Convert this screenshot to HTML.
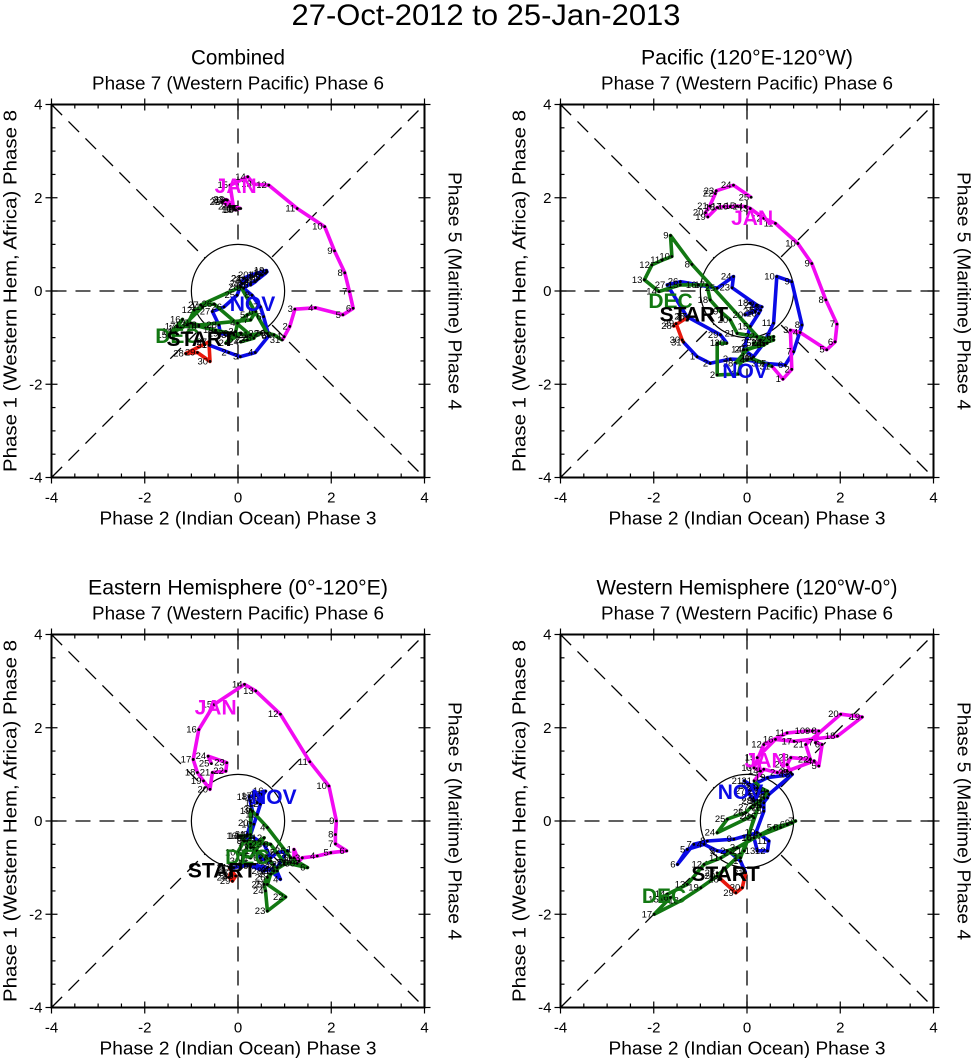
<!DOCTYPE html>
<html><head><meta charset="utf-8"><style>
html,body{margin:0;padding:0;background:#fff;}
svg{display:block;font-family:"Liberation Sans",Arial,sans-serif;}
</style></head><body>
<svg id="chart" width="971" height="1058" viewBox="0 0 971 1058" xmlns="http://www.w3.org/2000/svg">
<text x="486" y="25" text-anchor="middle" font-size="30" textLength="389" lengthAdjust="spacingAndGlyphs">27-Oct-2012 to 25-Jan-2013</text>
</svg>
<script>
// ---- data (RMM1, RMM2) per panel & month ----
const panelTitles = ["Combined","Pacific (120°E-120°W)","Eastern Hemisphere (0°-120°E)","Western Hemisphere (120°W-0°)"];
const panelTitleWidths = [94,212,300,301];
const tickValues = [-4,-2,0,2,4];
const monthNames = ["OCT","NOV","DEC","JAN"];
const monthColors = ["#e8180c","#0a0ae6","#127812","#f20af2"];
const octDays = [27,28,29,30,31];

const p1Oct = [[-0.62,-1.09],[-1.12,-1.34],[-0.87,-1.32],[-0.60,-1.51],[-0.62,-1.16]];
const p1Nov = [[-0.62,-1.16],[-0.20,-1.32],[0.05,-1.41],[0.37,-1.32],[0.66,-0.96],[0.55,-0.55],[0.48,-0.34],[0.30,-0.09],[0.12,0.06],[0.27,0.16],[0.45,0.27],[0.59,0.38],[0.62,0.41],[0.48,0.34],[0.41,0.24],[0.27,0.13],[0.37,0.20],[0.52,0.34],[0.61,0.44],[0.27,0.34],[0.12,0.27],[0.20,0.24],[0.09,0.16],[0.12,0.27],[-0.02,-0.09],[-0.30,-0.34],[-0.55,-0.44],[-0.41,-0.73],[-0.38,-0.91],[-0.09,-0.94]];
const p1Dec = [[0.06,-0.91],[-0.26,-1.12],[-0.05,-0.87],[-0.01,-0.69],[0.20,-0.51],[0.38,-0.44],[0.27,-0.62],[-0.84,-0.73],[-1.01,-0.69],[-1.23,-0.80],[-0.76,-0.34],[-0.94,-0.41],[-1.09,-0.73],[-1.37,-0.87],[-1.48,-0.94],[-1.19,-0.61],[-1.30,-0.76],[-0.84,-0.76],[-0.48,-0.84],[-0.16,-0.91],[0.27,-0.94],[0.49,-0.91],[0.20,-1.05],[0.06,-1.09],[0.34,-1.01],[-0.51,-0.28],[-0.80,-0.30],[0.06,0.09],[0.63,-0.91],[0.77,-0.94],[0.95,-1.05]];
const p1Jan = [[0.99,-0.98],[1.11,-0.76],[1.22,-0.39],[1.66,-0.36],[2.25,-0.51],[2.47,-0.37],[2.39,-0.01],[2.29,0.39],[2.07,0.86],[1.86,1.38],[1.27,1.77],[0.66,2.27],[0.34,2.29],[0.21,2.45],[-0.17,2.27],[-0.09,1.75],[0.02,1.77],[-0.05,1.74],[-0.23,1.95],[-0.31,1.94],[-0.16,1.81],[-0.34,1.91],[-0.26,1.96],[-0.09,1.81],[0.06,1.77]];

const p2Oct = [[-1.25,-0.55],[-1.57,-0.75],[-1.52,-0.70],[-1.39,-1.05],[-1.36,-1.10]];
const p2Nov = [[-1.07,-1.41],[-0.79,-1.55],[-0.36,-1.46],[0.00,-1.48],[0.46,-1.56],[0.82,-1.59],[1.00,-1.30],[1.18,-0.73],[0.96,0.20],[0.64,0.31],[0.57,-0.69],[0.36,-1.12],[0.14,-1.41],[-0.07,-1.26],[0.07,-0.76],[0.25,-0.48],[0.29,-0.41],[0.07,-0.26],[0.32,-0.34],[-0.04,-0.51],[0.18,-0.44],[0.21,-0.30],[-0.32,0.07],[-0.29,0.31],[-0.64,0.06],[-1.43,0.20],[-1.71,0.13],[-1.29,-0.55],[-0.57,-0.94],[-0.43,-1.12]];
const p2Dec = [[-0.64,-1.12],[-0.64,-1.80],[-0.18,-1.78],[-0.07,-1.26],[0.36,-1.16],[0.57,-0.98],[0.29,-1.05],[-1.18,0.57],[-1.64,1.19],[-1.61,0.74],[-1.82,0.66],[-2.04,0.56],[-2.20,0.24],[-1.89,-0.01],[-1.43,0.13],[-1.04,0.13],[-0.86,0.13],[-0.79,-0.19],[-0.57,-0.44],[-0.36,-0.62],[-0.21,-0.91],[0.21,-0.98],[0.57,-1.05],[0.36,-1.12],[0.14,-1.12],[0.43,-1.12],[0.00,-1.26],[-0.25,-1.55],[0.10,-1.45],[0.36,-1.55],[0.54,-1.62]];
const p2Jan = [[0.77,-1.89],[0.96,-1.68],[0.93,-0.84],[1.14,-0.89],[1.71,-1.26],[1.89,-1.09],[1.93,-0.71],[1.69,-0.19],[1.39,0.59],[1.09,1.02],[0.61,1.45],[0.36,1.56],[0.07,1.77],[-0.04,1.81],[-0.21,1.82],[-0.36,1.81],[-0.50,1.81],[-0.64,1.79],[-0.84,1.59],[-0.89,1.68],[-0.80,1.82],[-0.68,2.09],[-0.66,2.15],[-0.29,2.27],[0.09,2.01]];

const p3Oct = [[-0.16,-1.11],[-0.19,-1.21],[-0.12,-1.29],[-0.05,-1.18],[-0.19,-1.00]];
const p3Nov = [[-0.09,-1.00],[0.27,-0.93],[0.63,-1.00],[0.91,-1.25],[0.77,-0.93],[0.48,-0.79],[0.27,-0.50],[0.13,-0.43],[0.27,-0.29],[0.34,-0.07],[0.41,0.14],[0.48,0.36],[0.52,0.57],[0.45,0.50],[0.41,0.39],[0.59,0.64],[0.34,0.54],[0.24,0.52],[0.31,0.21],[0.27,-0.04],[0.20,-0.29],[0.34,-0.36],[0.56,-0.50],[0.70,-0.79],[0.84,-0.68],[1.06,-0.64],[0.84,-1.00],[0.56,-1.07],[0.27,-0.96],[0.09,-0.86]];
const p3Dec = [[0.06,-0.93],[0.27,-0.36],[0.27,0.25],[0.63,-0.14],[1.13,-0.79],[1.49,-1.00],[0.99,-0.89],[0.70,-0.50],[0.13,-0.43],[-0.01,-0.68],[0.27,-0.79],[0.56,-0.36],[0.27,-0.57],[0.06,-0.32],[0.20,-0.32],[0.02,-0.32],[0.41,-0.64],[0.70,-0.86],[0.84,-1.07],[0.70,-1.14],[0.63,-1.36],[1.02,-1.63],[0.63,-1.93],[0.59,-1.50],[0.56,-1.36],[0.63,-1.21],[0.77,-1.07],[0.99,-0.93],[1.13,-0.89],[1.27,-0.91],[1.20,-0.79]];
const p3Jan = [[1.20,-0.61],[1.31,-0.86],[1.38,-0.79],[1.70,-0.75],[1.99,-0.68],[2.33,-0.64],[2.09,-0.49],[2.09,-0.29],[2.11,0.00],[1.95,0.75],[1.54,1.27],[0.91,2.29],[0.38,2.79],[0.14,2.93],[-0.51,2.50],[-0.84,1.96],[-0.96,1.32],[-0.87,1.04],[-0.74,0.86],[-0.60,0.68],[-0.55,1.04],[-0.26,1.07],[-0.24,1.25],[-0.64,1.39],[-0.57,1.23]];

const p4Oct = [[-0.64,-1.11],[-0.56,-1.25],[-0.24,-1.54],[-0.10,-1.43],[-0.03,-1.11]];
const p4Nov = [[-0.14,-0.86],[-0.35,-0.68],[-0.64,-0.64],[-0.92,-0.50],[-1.28,-0.61],[-1.49,-0.93],[-1.14,-0.50],[-0.85,-0.43],[-0.28,-0.39],[0.22,-0.25],[0.47,-0.43],[0.44,-0.64],[0.22,-0.64],[0.15,-0.36],[0.36,0.21],[0.36,0.39],[0.47,0.57],[0.97,1.00],[0.44,0.93],[0.08,0.75],[-0.06,0.86],[0.29,0.64],[0.15,0.50],[0.29,0.32],[0.44,0.50],[0.22,0.71],[0.01,0.64],[0.15,0.43],[0.36,0.29],[0.29,0.43]];
const p4Dec = [[-0.14,-0.79],[-0.42,-0.64],[-0.21,-0.57],[0.29,-0.29],[0.58,-0.14],[0.86,-0.07],[1.04,0.00],[0.72,-0.14],[0.97,-0.04],[0.15,-0.36],[-0.56,-0.79],[-0.92,-0.93],[-1.28,-1.36],[-1.71,-1.57],[-1.85,-1.68],[-1.64,-1.64],[-1.99,-2.00],[-1.42,-1.71],[-0.99,-1.43],[-0.64,-1.18],[-0.06,-0.64],[0.15,0.07],[0.11,0.11],[-0.64,-0.25],[-0.42,0.04],[-0.03,0.18],[0.08,0.29],[0.36,0.50],[0.44,0.64],[0.29,0.71],[0.15,0.86]];
const p4Jan = [[0.36,1.11],[0.65,1.04],[0.86,1.07],[1.44,1.29],[1.54,1.18],[1.61,1.64],[1.47,1.68],[1.54,1.93],[1.40,1.93],[1.29,1.93],[0.86,1.89],[0.36,1.64],[0.15,1.14],[0.29,1.07],[0.22,1.36],[0.61,1.75],[1.01,1.71],[1.94,1.82],[2.47,2.23],[2.01,2.29],[1.26,1.64],[1.36,1.32],[0.94,1.36],[0.86,1.21],[0.94,1.04]];

// label anchor positions (data units) for month labels
const p1Labels = [[-1.3,-0.94],[0.31,-0.26],[-1.3,-0.94],[-0.05,2.27],[-0.8,-1.01]];
const p2Labels = [[0,0],[-0.04,-1.69],[-1.64,-0.19],[0.11,1.59],[-1.14,-0.48]];
const p3Labels = [[0,0],[0.77,0.54],[0.2,-0.75],[-0.48,2.46],[-0.34,-1.04]];
const p4Labels = [[0,0],[-0.14,0.64],[-1.78,-1.59],[0.4,1.32],[-0.46,-1.11]];

const panels = [
  {x0:51.5,y0:104.5,data:[p1Oct,p1Nov,p1Dec,p1Jan],labels:p1Labels},
  {x0:560.5,y0:104.5,data:[p2Oct,p2Nov,p2Dec,p2Jan],labels:p2Labels},
  {x0:51.5,y0:634.5,data:[p3Oct,p3Nov,p3Dec,p3Jan],labels:p3Labels},
  {x0:560.5,y0:634.5,data:[p4Oct,p4Nov,p4Dec,p4Jan],labels:p4Labels}
];
const SIZE = 373;
const NS = "http://www.w3.org/2000/svg";
const svg = document.getElementById('chart');
function mk(tag, attrs, parent, text){
  const e = document.createElementNS(NS, tag);
  for (const k in attrs) e.setAttribute(k, attrs[k]);
  if (text !== undefined) e.textContent = text;
  (parent||svg).appendChild(e);
  return e;
}
panels.forEach((p, pi) => {
  const sx = v => p.x0 + (v + 4) / 8 * SIZE;
  const sy = v => p.y0 + (4 - v) / 8 * SIZE;
  const g = mk('g', {});
  
  
  const cx = p.x0 + SIZE/2, cy = p.y0 + SIZE/2;
  const t = mk('text', {x:cx, y:p.y0-40, 'text-anchor':'middle', 'font-size':21, textLength:panelTitleWidths[pi], lengthAdjust:'spacingAndGlyphs'}, g, panelTitles[pi]);
  
  
  const tt = mk('text', {x:cx, y:p.y0-15, 'text-anchor':'middle', 'font-size':18, textLength:292, lengthAdjust:'spacingAndGlyphs'}, g, 'Phase 7 (Western Pacific) Phase 6');
  
  
  const bt = mk('text', {x:cx, y:p.y0+SIZE+47, 'text-anchor':'middle', 'font-size':18, textLength:277, lengthAdjust:'spacingAndGlyphs'}, g, 'Phase 2 (Indian Ocean) Phase 3');
  
  
  const lt = mk('text', {x:0, y:0, 'text-anchor':'middle', 'font-size':18, textLength:362, lengthAdjust:'spacingAndGlyphs', transform:`translate(${p.x0-35},${cy}) rotate(-90)`}, g, 'Phase 1 (Western Hem, Africa) Phase 8');
  
  
  const rt = mk('text', {x:0, y:0, 'text-anchor':'middle', 'font-size':18, textLength:238, lengthAdjust:'spacingAndGlyphs', transform:`translate(${p.x0+SIZE+24},${cy}) rotate(90)`}, g, 'Phase 5 (Maritime) Phase 4');
  
  
  const dash = {stroke:'#000','stroke-width':1.3,'stroke-dasharray':'15,9',fill:'none'};
  [[sx(-4),sy(4),sx(4),sy(-4)],[sx(-4),sy(-4),sx(4),sy(4)],[sx(-4),sy(0),sx(4),sy(0)],[sx(0),sy(4),sx(0),sy(-4)]].forEach(l=>{
    const e = mk('line', Object.assign({x1:l[0],y1:l[1],x2:l[2],y2:l[3]}, dash), g);
    
    
  });
  const c = mk('circle', {cx:sx(0), cy:sy(0), r:SIZE/8, fill:'#fff', stroke:'#000', 'stroke-width':1.2}, g);
  
  
  const fr = mk('rect', {x:p.x0, y:p.y0, width:SIZE, height:SIZE, fill:'none', stroke:'#000', 'stroke-width':2}, g);
  
  
  for (let v=-4; v<=4.001; v+=0.5){
    const major = Math.abs(v % 2) < 1e-6;
    const L = major ? 6 : 4;
    const out = major ? 6 : 0;
    mk('line',{x1:sx(v),y1:p.y0-out,x2:sx(v),y2:p.y0+L,stroke:'#000','stroke-width':1.2},g);
    mk('line',{x1:sx(v),y1:p.y0+SIZE+out,x2:sx(v),y2:p.y0+SIZE-L,stroke:'#000','stroke-width':1.2},g);
    mk('line',{x1:p.x0-out,y1:sy(v),x2:p.x0+L,y2:sy(v),stroke:'#000','stroke-width':1.2},g);
    mk('line',{x1:p.x0+SIZE+out,y1:sy(v),x2:p.x0+SIZE-L,y2:sy(v),stroke:'#000','stroke-width':1.2},g);
  }
  tickValues.forEach(v=>{
    const xl = mk('text',{x:sx(v),y:p.y0+SIZE+25,'text-anchor':'middle','font-size':15},g,String(v));
    
    
    const yl = mk('text',{x:p.x0-9,y:sy(v)+5,'text-anchor':'end','font-size':15},g,String(v));
    
    
  });
  let prev = null;
  p.data.forEach((pts, mi) => {
    const all = prev ? [prev].concat(pts) : pts;
    const d = all.map((q,i)=>(i?'L':'M')+sx(q[0]).toFixed(1)+','+sy(q[1]).toFixed(1)).join(' ');
    const path = mk('path',{d:d,fill:'none',stroke:monthColors[mi],'stroke-width':3.6,'stroke-linejoin':'round'},g);
    
    
    prev = pts[pts.length-1];
  });
  p.data.forEach((pts, mi) => {
    pts.forEach((q,i)=>{
      const day = mi===0 ? octDays[i] : i+1;
      const dot = mk('circle',{cx:sx(q[0]),cy:sy(q[1]),r:1.4,fill:'#000'},g);
      
      
      const lb = mk('text',{x:sx(q[0])-2,y:sy(q[1])+3,'text-anchor':'end','font-size':9.5},g,String(day));
      
      
    });
  });
  [1,2,3].forEach(mi=>{
    const q = p.labels[mi];
    const ml = mk('text',{x:sx(q[0]),y:sy(q[1])+8,'text-anchor':'middle','font-size':21,'font-weight':'bold',fill:monthColors[mi]},g,monthNames[mi]);
    
    
  });
  const sq = p.labels[4];
  const st = mk('text',{x:sx(sq[0]),y:sy(sq[1])+8,'text-anchor':'middle','font-size':21,'font-weight':'bold',fill:'#000'},g,'START');
  
  
});
</script>
</body></html>
